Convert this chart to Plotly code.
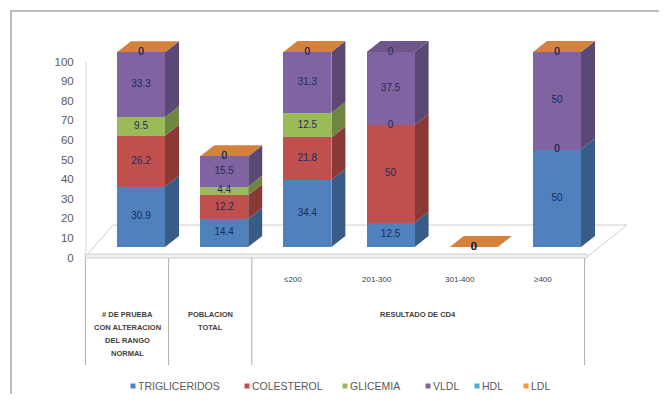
import plotly.graph_objects as go

# ---------------- data ----------------
series_names = ["TRIGLICERIDOS", "COLESTEROL", "GLICEMIA", "VLDL", "HDL", "LDL"]
trigliceridos = [30.9, 14.4, 34.4, 12.5, 0, 50]
colesterol = [26.2, 12.2, 21.8, 50, 0, 0]
glicemia = [9.5, 4.4, 12.5, 0, 0, 0]
vldl = [33.3, 15.5, 31.3, 37.5, 0, 50]
hdl = [0, 0, 0, 0, 0, 0]
ldl = [0, 0, 0, None, 0, 0]
series_values = [trigliceridos, colesterol, glicemia, vldl, hdl, ldl]

category_labels = ["", "", "≤200", "201-300", "301-400", "≥400"]
group_labels = [["# DE PRUEBA", "CON ALTERACION", "DEL RANGO", "NORMAL"],
                ["POBLACION", "TOTAL"],
                ["RESULTADO DE CD4"]]
group_sizes = [1, 1, 4]
y_ticks = list(range(0, 101, 10))

# ---------------- styles / layout ----------------
colors = ["#4F81BD", "#C0504D", "#9BBB59", "#8064A2", "#4BACC6", "#F79646"]
WIN_W, WIN_H = 667, 402
OFF = 8                            # page body margin
W, H = WIN_W - 2 * OFF, WIN_H - 2 * OFF
X0_PX, STEP_PX = 141.0 - OFF, 83.2     # first bar centre (figure px), spacing
Y0_PX, UNIT_PX = 247.0 - OFF, 1.95     # bar baseline (figure px), px per unit
T0_PX, TUNIT_PX = 257.5 - OFF, 1.96    # tick axis baseline (figure px)
DX_PX, DY_PX = 14.0, 11.0              # depth of 3d bars
BAR_W = 48.0 / STEP_PX
dx = DX_PX / STEP_PX
dy = DY_PX / UNIT_PX
FONT = "Liberation Sans"
LABEL_COLOR = "#1F2A5C"


def px(x):  # window pixel -> paper
    return (x - OFF) / W


def py(y):
    return 1 - (y - OFF) / H


def shade(hex_color, f):
    h = hex_color.lstrip("#")
    r, g, b = (int(h[i:i + 2], 16) for i in (0, 2, 4))
    return "#%02x%02x%02x" % (int(r * f), int(g * f), int(b * f))


n = len(category_labels)
positions = list(range(n))

fig = go.Figure()
shapes = []
annotations = []

# floor (below bars)
floor_pts = [(85, 257), (587, 257), (627, 225), (113, 225)]
path = "M " + " L ".join(f"{px(a)},{py(b)}" for a, b in floor_pts) + " Z"
shapes.append(dict(type="path", path=path, xref="paper", yref="paper",
                   fillcolor="white", line=dict(color="#d0d0d0", width=1), layer="below"))
shapes.append(dict(type="rect", xref="paper", yref="paper", x0=px(85), x1=px(587),
                   y0=py(258), y1=py(254), fillcolor="#f0f0f0",
                   line=dict(color="#d0d0d0", width=1), layer="below"))

bases = [0.0] * n
top_colors = [colors[-1]] * n
lab_x, lab_y, lab_t = [], [], []
for name, vals, color in zip(series_names, series_values, colors):
    fig.add_trace(go.Bar(x=positions, y=vals, width=BAR_W, name=name,
                         marker=dict(color=color, line=dict(width=0)),
                         showlegend=False, hoverinfo="skip"))
    for i, v in enumerate(vals):
        if v is None:
            continue
        if v > 0:
            xr = positions[i] + BAR_W / 2
            b0, b1 = bases[i], bases[i] + v
            p = (f"M {xr},{b0} L {xr + dx},{b0 + dy} L {xr + dx},{b1 + dy} "
                 f"L {xr},{b1} Z")
            shapes.append(dict(type="path", path=p, xref="x", yref="y",
                               fillcolor=shade(color, 0.72), line=dict(width=0),
                               layer="below"))
            top_colors[i] = color
        lab_x.append(positions[i])
        lab_y.append(bases[i] + v / 2)
        lab_t.append(f"{v:g}")
        bases[i] += v

# top face: last series colour where it is present, else topmost filled segment
for i in positions:
    if series_values[-1][i] is not None:
        top_colors[i] = colors[-1]

for i in positions:
    xl, xr, t = positions[i] - BAR_W / 2, positions[i] + BAR_W / 2, bases[i]
    p = (f"M {xl},{t} L {xr},{t} L {xr + dx},{t + dy} L {xl + dx},{t + dy} Z")
    shapes.append(dict(type="path", path=p, xref="x", yref="y",
                       fillcolor=shade(top_colors[i], 0.86), line=dict(width=0),
                       layer="below"))

# data labels
fig.add_trace(go.Scatter(x=lab_x, y=lab_y, text=lab_t, mode="text",
                         textposition="middle center",
                         textfont=dict(family=FONT, size=10, color=LABEL_COLOR),
                         showlegend=False, hoverinfo="skip"))

# invisible trace on tick axis
fig.add_trace(go.Scatter(x=positions, y=bases, mode="markers", yaxis="y2",
                         marker=dict(opacity=0), showlegend=False, hoverinfo="skip"))

# vertical axis line
shapes.append(dict(type="line", xref="paper", yref="y2", x0=px(86), x1=px(86),
                   y0=y_ticks[0], y1=y_ticks[-1], line=dict(color="#d9d9d9", width=1)))

# category table separators and labels
sep_idx = [0]
for s in group_sizes:
    sep_idx.append(sep_idx[-1] + s)
for k in sep_idx:
    xs = k - 0.5 - dx
    shapes.append(dict(type="line", xref="x", yref="paper", x0=xs, x1=xs,
                       y0=py(258), y1=py(365), line=dict(color="#b0b0b0", width=1)))

for i, lab in enumerate(category_labels):
    if lab:
        annotations.append(dict(x=positions[i] - dx, y=py(279), xref="x", yref="paper",
                                xanchor="center", yanchor="middle",
                                text=lab, showarrow=False,
                                font=dict(family=FONT, size=8, color="#404040")))
start = 0
for lines, s in zip(group_labels, group_sizes):
    xc = start + (s - 1) / 2 - dx
    for j, line in enumerate(lines):
        annotations.append(dict(x=xc, y=py(314 + 13.3 * j), xref="x", yref="paper",
                                xanchor="center", yanchor="middle",
                                text=f"<b>{line}</b>", showarrow=False,
                                font=dict(family=FONT, size=7.5, color="#404040")))
    start += s

# legend (manual)
legend_px = [133, 247, 345, 428, 477, 526]
for name, color, lx in zip(series_names, colors, legend_px):
    shapes.append(dict(type="rect", xref="paper", yref="paper",
                       x0=px(lx - 2.5), x1=px(lx + 2.5), y0=py(388.5), y1=py(383.5),
                       fillcolor=color, line=dict(width=0)))
    annotations.append(dict(x=px(lx + 3), y=py(386), xref="paper", yref="paper",
                            xanchor="left", yanchor="middle", text=name, showarrow=False,
                            font=dict(family=FONT, size=10.5, color="#595959")))

# outer border
shapes.append(dict(type="rect", xref="paper", yref="paper", x0=px(11), x1=px(720),
                   y0=py(440), y1=py(11), line=dict(color="#a6a6a6", width=1.5)))

fig.update_layout(
    width=W, height=H, autosize=False,
    margin=dict(l=0, r=0, t=0, b=0),
    paper_bgcolor="white", plot_bgcolor="white",
    barmode="stack", bargap=0,
    xaxis=dict(range=[-X0_PX / STEP_PX, (W - X0_PX) / STEP_PX], domain=[0, 1],
               visible=False, fixedrange=True),
    yaxis=dict(range=[(Y0_PX - H) / UNIT_PX, Y0_PX / UNIT_PX], domain=[0, 1],
               visible=False, fixedrange=True),
    yaxis2=dict(range=[(T0_PX - H) / TUNIT_PX, T0_PX / TUNIT_PX], overlaying="y",
                anchor="free", position=px(86), side="left",
                tickvals=y_ticks, ticktext=[str(t) for t in y_ticks],
                ticks="outside", ticklen=10, tickcolor="rgba(0,0,0,0)",
                showgrid=False, zeroline=False, showline=False,
                tickfont=dict(family=FONT, size=11.5, color="#595959"),
                fixedrange=True),
    shapes=shapes, annotations=annotations,
    showlegend=False,
)

fig.write_html("out.html")
